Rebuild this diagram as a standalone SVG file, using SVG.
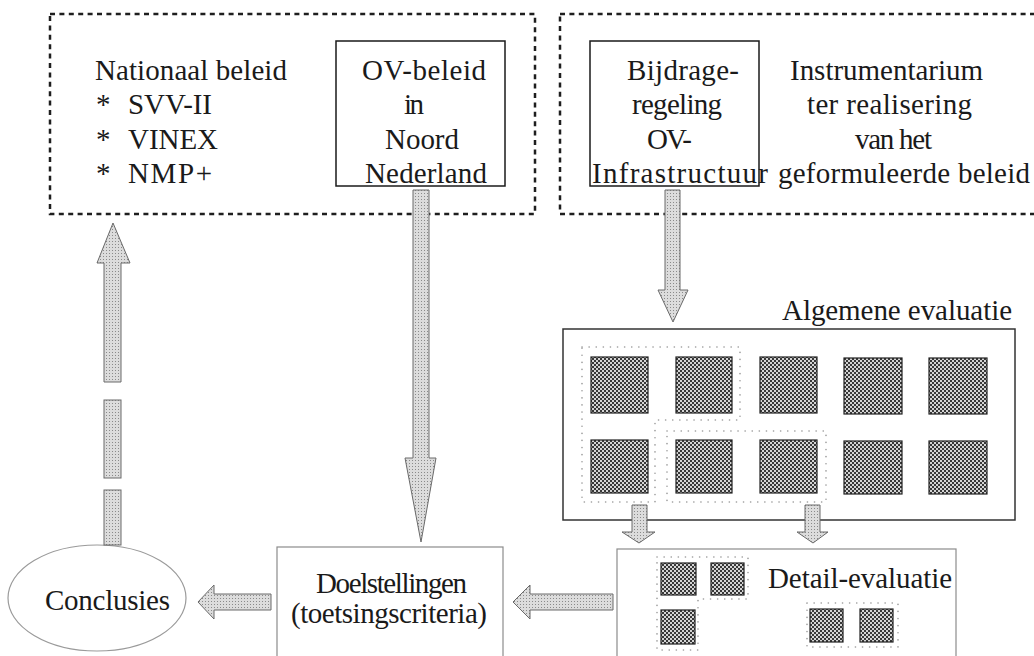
<svg xmlns="http://www.w3.org/2000/svg" width="1034" height="656" viewBox="0 0 1034 656">
<defs>
<pattern id="dark" width="4" height="4" patternUnits="userSpaceOnUse">
<rect width="4" height="4" fill="#383838"/>
<rect x="0" y="0" width="2" height="2" fill="#d4d4d4"/>
<rect x="2" y="2" width="2" height="2" fill="#d4d4d4"/>
</pattern>
<pattern id="light" width="3" height="3" patternUnits="userSpaceOnUse">
<rect width="3" height="3" fill="#dcdcdc"/>
<rect x="1" y="1" width="1" height="1" fill="#8a8a8a"/>
</pattern>
<style>
.t{font-family:"Liberation Serif","Times New Roman",serif;font-size:29px;fill:#1a1a1a}
.frame{fill:none;stroke:#1e1e1e;stroke-width:2.5;stroke-dasharray:5 4.4}
.box{fill:#fff;stroke:#1a1a1a;stroke-width:1.5}
.lbox{fill:#fff;stroke:#8c8c8c;stroke-width:1.2}
.sq{fill:url(#dark);stroke:#222;stroke-width:1.2}
.grp{fill:none;stroke:#9a9a9a;stroke-width:1.6;stroke-dasharray:0.1 7;stroke-linecap:round}
.arr{fill:url(#light);stroke:#6a6a6a;stroke-width:1}
</style>
</defs>
<rect width="1034" height="656" fill="#fff"/>

<g id="beleid">
<rect class="frame" x="50" y="14" width="485" height="200"/>
<text class="t" x="95" y="80" textLength="192">Nationaal beleid</text>
<text class="t" x="96" y="114">*</text>
<text class="t" x="128" y="114" textLength="84">SVV-II</text>
<text class="t" x="96" y="149">*</text>
<text class="t" x="128" y="149" textLength="90">VINEX</text>
<text class="t" x="96" y="183">*</text>
<text class="t" x="128" y="183" textLength="84">NMP+</text>
</g>

<g id="ov-beleid">
<rect class="box" x="336" y="41" width="169" height="145"/>
<text class="t" x="362" y="80" textLength="124">OV-beleid</text>
<text class="t" x="404" y="114" textLength="20">in</text>
<text class="t" x="385" y="149" textLength="74">Noord</text>
<text class="t" x="365" y="183" textLength="122">Nederland</text>
</g>

<g id="instrumentarium">
<rect class="frame" x="560" y="14" width="490" height="200"/>
<text class="t" x="790" y="80" textLength="193">Instrumentarium</text>
<text class="t" x="807" y="114" textLength="165">ter realisering</text>
<text class="t" x="855" y="149" textLength="77">van het</text>
<text class="t" x="778" y="183" textLength="252">geformuleerde beleid</text>
</g>

<g id="bijdrageregeling">
<rect class="box" x="590" y="41" width="169" height="145"/>
<text class="t" x="627" y="80" textLength="112">Bijdrage-</text>
<text class="t" x="632" y="114" textLength="90">regeling</text>
<text class="t" x="647" y="149" textLength="45">OV-</text>
<text class="t" x="592" y="183" textLength="176">Infrastructuur</text>
</g>

<g id="algemene-evaluatie">
<text class="t" x="782" y="320" textLength="230">Algemene evaluatie</text>
<rect class="box" x="563" y="329" width="452" height="191" style="stroke:#333"/>
<path class="grp" d="M582,347 H740 V420 H655 V502 H582 Z"/>
<rect class="grp" x="667" y="431" width="159" height="71"/>
<rect class="sq" x="591" y="357" width="57" height="56"/>
<rect class="sq" x="676" y="357" width="56" height="56"/>
<rect class="sq" x="760" y="357" width="57" height="56"/>
<rect class="sq" x="844" y="358" width="58" height="56"/>
<rect class="sq" x="929" y="358" width="58" height="56"/>
<rect class="sq" x="591" y="440" width="57" height="53"/>
<rect class="sq" x="676" y="440" width="56" height="53"/>
<rect class="sq" x="760" y="440" width="57" height="53"/>
<rect class="sq" x="844" y="441" width="58" height="53"/>
<rect class="sq" x="929" y="441" width="58" height="53"/>
</g>

<g id="detail-evaluatie">
<rect class="lbox" x="617" y="549" width="339" height="120"/>
<path class="grp" d="M657,557 H748 V599 H698 V650 H657 Z"/>
<rect class="grp" x="807" y="603" width="91" height="44"/>
<rect class="sq" x="661" y="563" width="35" height="32"/>
<rect class="sq" x="711" y="563" width="33" height="32"/>
<rect class="sq" x="661" y="610" width="34" height="34"/>
<rect class="sq" x="810" y="609" width="33" height="33"/>
<rect class="sq" x="860" y="609" width="33" height="33"/>
<text class="t" x="768" y="588" textLength="184">Detail-evaluatie</text>
</g>

<g id="doelstellingen">
<rect class="lbox" x="277" y="547" width="226" height="120"/>
<text class="t" x="316" y="593" textLength="151">Doelstellingen</text>
<text class="t" x="291" y="623" textLength="196">(toetsingscriteria)</text>
</g>

<g id="conclusies">
<ellipse cx="97" cy="598" rx="89" ry="53" fill="#fff" stroke="#9a9a9a" stroke-width="1.2"/>
<text class="t" x="45" y="610" textLength="125">Conclusies</text>
</g>

<g id="connectors">
<path class="arr" d="M413,190 H429 V458 H436 L421,542 L405,458 H413 Z"/>
<path class="arr" d="M665,190 H680 V290 H688 L673,322 L658,290 H665 Z"/>
<path class="arr" d="M632,505 H647 V532 H655 L639,543 L622,532 H632 Z"/>
<path class="arr" d="M805,505 H820 V532 H828 L813,543 L797,532 H805 Z"/>
<path class="arr" d="M613,594 H530 V585 L513,602 L530,619 V610 H613 Z"/>
<path class="arr" d="M271,594 H214 V585 L198,602 L214,619 V610 H271 Z"/>
<path class="arr" d="M104,382 V263 H97 L113,223 L130,263 H121 V382 Z"/>
<rect class="arr" x="104" y="400" width="17" height="78"/>
<rect class="arr" x="104" y="490" width="17" height="55"/>
</g>
</svg>
